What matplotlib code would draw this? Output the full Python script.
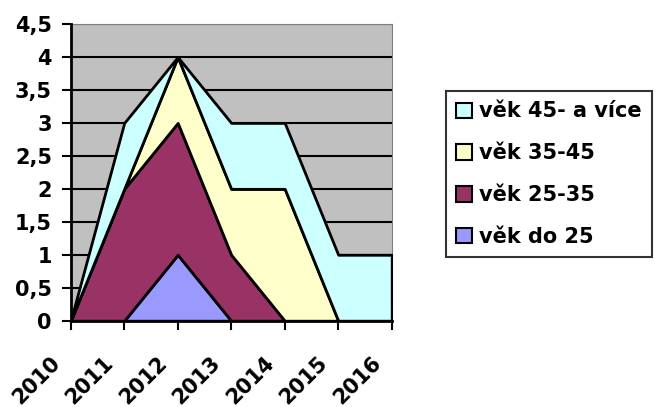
import numpy as np
import matplotlib
matplotlib.use("Agg")
import matplotlib.pyplot as plt
import matplotlib.transforms as mtransforms
from matplotlib.patches import Patch
from matplotlib.ticker import FuncFormatter, MultipleLocator

years = ["2010", "2011", "2012", "2013", "2014", "2015", "2016"]
do25 = [0, 0, 1, 0, 0, 0, 0]
v25_35 = [0, 2, 2, 1, 0, 0, 0]
v35_45 = [0, 0, 1, 1, 2, 0, 0]
v45 = [0, 1, 0, 1, 1, 1, 1]
labels = ["věk do 25", "věk 25-35", "věk 35-45", "věk 45- a více"]
colors = ["#9999FF", "#993366", "#FFFFCC", "#CCFFFF"]

plt.rcParams['font.family'] = ['DejaVu Sans']
plt.rcParams['font.weight'] = 'bold'

fig = plt.figure(figsize=(6.55, 4.07), dpi=100)
ax = fig.add_axes([70.7/655, 1-320.7/407, (391.7-70.7)/655, (320.7-24)/407])
ax.set_facecolor("#C0C0C0")
x = np.arange(len(years))
ax.stackplot(x, do25, v25_35, v35_45, v45, colors=colors,
             edgecolor="black", linewidth=2, zorder=3)
ax.set_xlim(0, len(years) - 1)
ax.set_ylim(0, 4.5)
ax.yaxis.set_major_locator(MultipleLocator(0.5))
ax.yaxis.set_major_formatter(FuncFormatter(lambda v, p: ("%g" % v).replace(".", ",")))
ax.grid(axis="y", color="black", linewidth=1.5, zorder=1)
ax.set_axisbelow(True)
ax.set_xticks(x)
ax.set_xticklabels(years, rotation=45, ha="right", va="center", rotation_mode="anchor")
ax.tick_params(axis="both", labelsize=15, width=1.5, length=6.5, direction="out", colors="black")
ax.tick_params(axis="x", pad=0)
ax.tick_params(axis="y", pad=7)
offset = mtransforms.ScaledTranslation(-14/100, -30/100, fig.dpi_scale_trans)
for lab in ax.get_xticklabels():
    lab.set_transform(lab.get_transform() + offset)
for lab in ax.get_xticklabels() + ax.get_yticklabels():
    lab.set_fontweight("bold")
ax.spines["left"].set_linewidth(2)
ax.spines["bottom"].set_linewidth(2)
ax.spines["top"].set_color("#808080")
ax.spines["right"].set_color("#808080")
ax.spines["bottom"].set_zorder(5)
ax.spines["left"].set_zorder(5)

handles = [Patch(facecolor=c, edgecolor="black", linewidth=1.5) for c in colors]
leg = fig.legend(handles[::-1], labels[::-1], loc="upper left",
                 bbox_to_anchor=(446/655, 1-91/407), fontsize=15,
                 frameon=True, fancybox=False, edgecolor="black",
                 handlelength=0.75, handleheight=0.75, handletextpad=0.35,
                 labelspacing=1.05, borderpad=0.5, borderaxespad=0)
leg.get_frame().set_linewidth(1.5)
for t in leg.get_texts():
    t.set_fontweight("bold")

fig.savefig("out.png", dpi=100)
